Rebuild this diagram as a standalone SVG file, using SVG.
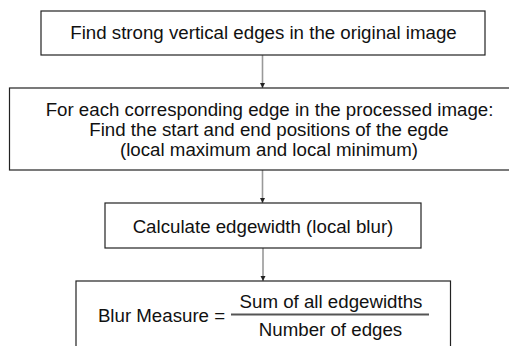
<svg xmlns="http://www.w3.org/2000/svg" width="509" height="346" viewBox="0 0 509 346">
<defs>
<style>
.box{fill:#fff;stroke:#222;stroke-width:1.2}
.t{font-family:"Liberation Sans",Arial,sans-serif;font-size:18.7px;fill:#111;text-anchor:middle}
.c{stroke:#999;stroke-width:1.6;fill:none}
</style>
<marker id="ah" markerWidth="6" markerHeight="6" refX="5" refY="3" orient="auto" markerUnits="userSpaceOnUse">
<path d="M0,0.5 L5,3 L0,5.5 Z" fill="#222"/>
</marker>
</defs>
<rect width="509" height="346" fill="#fff"/>
<g id="connectors">
<line class="c" x1="262.5" y1="55" x2="262.5" y2="88" marker-end="url(#ah)"/>
<line class="c" x1="262.5" y1="170" x2="262.5" y2="203" marker-end="url(#ah)"/>
<line class="c" x1="263" y1="248" x2="263" y2="281" marker-end="url(#ah)"/>
</g>
<g id="node1">
<rect class="box" x="41" y="11" width="444" height="44"/>
<text class="t" x="263.5" y="38.5">Find strong vertical edges in the original image</text>
</g>
<g id="node2">
<rect class="box" x="9.5" y="88" width="505" height="82"/>
<text class="t" x="269.5" y="115.5">For each corresponding edge in the processed image:</text>
<text class="t" x="269" y="135.5">Find the start and end positions of the egde</text>
<text class="t" x="269" y="155.5">(local maximum and local minimum)</text>
</g>
<g id="node3">
<rect class="box" x="105" y="203" width="316" height="45"/>
<text class="t" x="263" y="232.5">Calculate edgewidth (local blur)</text>
</g>
<g id="node4">
<rect class="box" x="76" y="281" width="374.5" height="70"/>
<text class="t" x="161.5" y="321.5">Blur Measure =</text>
<line x1="231" y1="314.5" x2="429" y2="314.5" stroke="#555" stroke-width="2"/>
<text class="t" x="331" y="307.5">Sum of all edgewidths</text>
<text class="t" x="330.5" y="335.5">Number of edges</text>
</g>
</svg>
